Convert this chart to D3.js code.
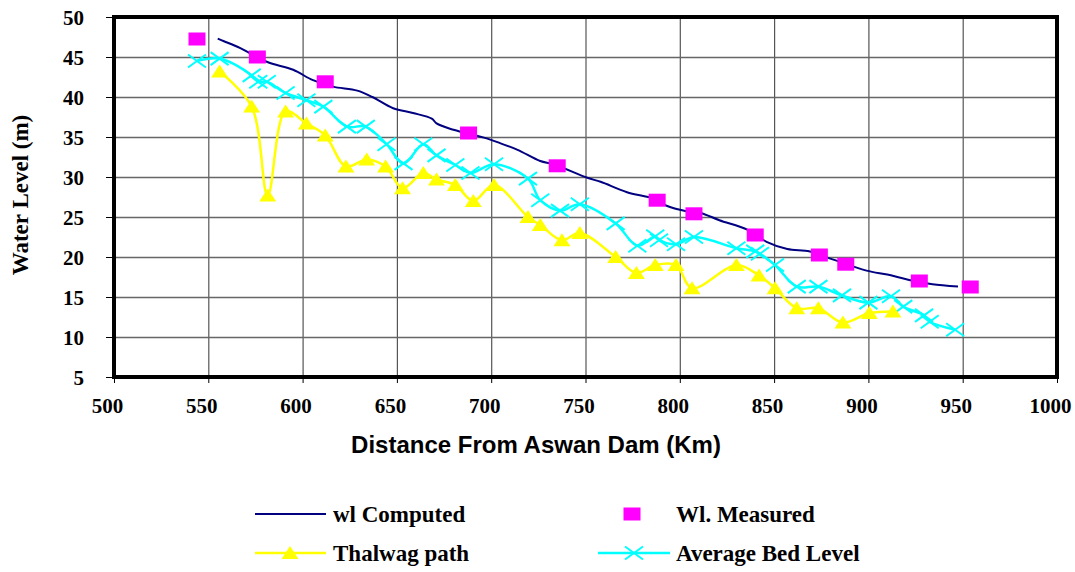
<!DOCTYPE html>
<html>
<head>
<meta charset="utf-8">
<script src="https://cdn.jsdelivr.net/npm/d3@7"></script>
<style>
    body { margin: 0; background: #fff; }
    #chart { width: 1075px; height: 572px; }
    .tick text { font-family: "Liberation Serif", "Times New Roman", serif; font-weight: bold; font-size: 21px; fill: #000; }
    .legendText { font-family: "Liberation Serif", "Times New Roman", serif; font-weight: bold; font-size: 23px; }
</style>
</head>
<body>
<div id="chart"></div>
<script>

// wl Computed
const compKm = [555, 558, 567, 581, 595, 605.5, 616, 629, 637, 648, 658.5, 668.5, 671, 680, 698, 705, 714, 726, 733, 751, 758, 772, 786, 793, 804, 811, 821, 836, 846, 857, 869, 881, 899, 910, 917, 926, 934, 947.5];
const compWl = [47.3, 47.0, 46.1, 44.4, 43.4, 42.1, 41.3, 40.8, 40.0, 38.6, 38.0, 37.3, 36.7, 35.9, 34.8, 34.2, 33.4, 32.0, 31.6, 29.9, 29.4, 28.1, 27.3, 26.4, 25.7, 25.5, 24.6, 23.4, 21.9, 21.0, 20.7, 19.7, 18.3, 17.8, 17.4, 16.9, 16.6, 16.3];

// Wl. Measured
const measKm = [544, 576, 612, 688, 735, 788, 807.5, 840, 874, 888, 927, 954];
const measWl = [47.25, 45.0, 41.9, 35.5, 31.4, 27.1, 25.4, 22.75, 20.25, 19.1, 17.0, 16.25];

// Thalwag path
const thalKm = [556, 573, 581.5, 591, 602, 612, 623, 634, 644, 653, 664, 671, 681, 690.5, 701.5, 719.5, 726, 737.5, 747, 766, 777, 787, 798, 806.5, 830, 842, 850.5, 862, 873.5, 886.5, 900.5, 913];
const thalWl = [43.2, 38.8, 27.7, 38.2, 36.7, 35.2, 31.3, 32.2, 31.3, 28.6, 30.5, 29.7, 29.0, 27.0, 29.0, 25.0, 24.0, 22.1, 23.0, 20.0, 18.0, 19.0, 19.0, 16.1, 19.0, 17.7, 16.1, 13.6, 13.6, 11.8, 13.0, 13.2];

// Average Bed Level
const bedKm = [544, 556, 573, 576.5, 581, 591, 602, 611, 623.5, 633.5, 644.5, 653.5, 664, 671, 681, 689, 701.5, 719.5, 726, 736.5, 747, 766, 777.5, 787, 789, 798, 807.5, 830, 840, 842.5, 850.5, 862, 873.5, 886, 900, 912, 918.5, 929.5, 932.5, 946];
const bedWl = [44.5, 44.8, 42.7, 41.9, 41.9, 40.5, 39.6, 38.8, 36.3, 36.3, 34.1, 31.7, 34.1, 32.7, 31.5, 30.5, 31.6, 29.8, 27.1, 25.8, 26.6, 24.2, 21.4, 22.6, 22.1, 21.6, 22.5, 21.1, 20.7, 20.4, 19.0, 16.3, 16.3, 15.2, 14.3, 15.1, 13.8, 12.7, 11.9, 10.9];

const xTicks = [500, 550, 600, 650, 700, 750, 800, 850, 900, 950, 1000];
const yTicks = [5, 10, 15, 20, 25, 30, 35, 40, 45, 50];

const width = 1075;
const height = 572;
const margin = {top: 17, left: 114, right: 18, bottom: 195};

const canvas = d3.select("#chart")
    .append("svg")
    .attr("width", width)
    .attr("height", height);

const xScale = d3.scaleLinear()
    .domain([500, 1000])
    .range([margin.left, width - margin.right]);

const yScale = d3.scaleLinear()
    .domain([5, 50])
    .range([height - margin.bottom, margin.top]);

const plotW = width - margin.right - margin.left;
const plotH = height - margin.bottom - margin.top;

// gridlines
const xGrid = canvas.append("g")
    .attr("transform", `translate(0, ${height - margin.bottom})`)
    .call(d3.axisBottom(xScale).tickValues(xTicks).tickSize(-plotH).tickFormat(""));
xGrid.select(".domain").remove();
xGrid.selectAll("line").attr("stroke", "#555").attr("stroke-width", 1.2);

const yGrid = canvas.append("g")
    .attr("transform", `translate(${margin.left}, 0)`)
    .call(d3.axisLeft(yScale).tickValues(yTicks).tickSize(-plotW).tickFormat(""));
yGrid.select(".domain").remove();
yGrid.selectAll("line").attr("stroke", "#666").attr("stroke-width", 1.6);

// axes
const xAxis = canvas.append("g")
    .attr("transform", `translate(0, ${height - margin.bottom})`)
    .call(d3.axisBottom(xScale).tickValues(xTicks).tickSize(6).tickFormat(d3.format("d")));
xAxis.select(".domain").remove();
xAxis.selectAll("line").attr("stroke", "#000");
xAxis.selectAll("text").attr("y", 36).attr("dy", 0).attr("dx", -7);

const yAxis = canvas.append("g")
    .attr("transform", `translate(${margin.left}, 0)`)
    .call(d3.axisLeft(yScale).tickValues(yTicks).tickSize(8).tickFormat(d3.format("d")));
yAxis.select(".domain").remove();
yAxis.selectAll("line").attr("stroke", "#000");
yAxis.selectAll("text").attr("x", -30).attr("dy", "0.35em");

// plot frame
canvas.append("rect")
    .attr("x", margin.left)
    .attr("y", margin.top)
    .attr("width", plotW)
    .attr("height", plotH)
    .attr("fill", "none")
    .attr("stroke", "#000")
    .attr("stroke-width", 4);

// axis titles
canvas.append("text")
    .attr("x", 536)
    .attr("y", 453)
    .attr("text-anchor", "middle")
    .attr("font-family", "'Liberation Sans', Arial, sans-serif")
    .attr("font-weight", "bold")
    .attr("font-size", "24px")
    .text("Distance From Aswan Dam (Km)");

canvas.append("text")
    .attr("transform", "rotate(-90)")
    .attr("x", -195)
    .attr("y", 28)
    .attr("text-anchor", "middle")
    .attr("font-family", "'Liberation Serif', 'Times New Roman', serif")
    .attr("font-weight", "bold")
    .attr("font-size", "23px")
    .text("Water Level (m)");

// markers
function square(g, cx, cy) {
    g.append("rect")
        .attr("x", cx - 8.5).attr("y", cy - 6.5)
        .attr("width", 17).attr("height", 13)
        .attr("fill", "#ff00ff");
}
function triangle(g, cx, cy) {
    g.append("path")
        .attr("d", `M${cx},${cy - 7} L${cx + 8.5},${cy + 6} L${cx - 8.5},${cy + 6} Z`)
        .attr("fill", "#ffff00");
}
function cross(g, cx, cy) {
    g.append("path")
        .attr("d", `M${cx - 9},${cy - 6.5} L${cx + 9},${cy + 6.5} M${cx - 9},${cy + 6.5} L${cx + 9},${cy - 6.5}`)
        .attr("stroke", "#00ffff")
        .attr("stroke-width", 2)
        .attr("fill", "none");
}

const comp = compKm.map(function(d, i) { return [d, compWl[i]]; });
const meas = measKm.map(function(d, i) { return [d, measWl[i]]; });
const thal = thalKm.map(function(d, i) { return [d, thalWl[i]]; });
const bed = bedKm.map(function(d, i) { return [d, bedWl[i]]; });

const smooth = d3.line()
    .x(function(d) { return xScale(d[0]); })
    .y(function(d) { return yScale(d[1]); })
    .curve(d3.curveCatmullRom.alpha(0.5));

const plot = canvas.append("g");

plot.append("path")
    .attr("d", smooth(bed))
    .attr("fill", "none")
    .attr("stroke", "#00ffff")
    .attr("stroke-width", 2.5);

bed.forEach(function(d) { cross(plot, xScale(d[0]), yScale(d[1])); });

plot.append("path")
    .attr("d", smooth(thal))
    .attr("fill", "none")
    .attr("stroke", "#ffff00")
    .attr("stroke-width", 2.5);

thal.forEach(function(d) { triangle(plot, xScale(d[0]), yScale(d[1])); });

plot.append("path")
    .attr("d", smooth(comp))
    .attr("fill", "none")
    .attr("stroke", "#000080")
    .attr("stroke-width", 2);

meas.forEach(function(d) { square(plot, xScale(d[0]), yScale(d[1])); });

// legend
const legend = canvas.append("g");

legend.append("line")
    .attr("x1", 255).attr("x2", 326).attr("y1", 514).attr("y2", 514)
    .attr("stroke", "#000080").attr("stroke-width", 2);
legend.append("text").attr("class", "legendText")
    .attr("x", 333).attr("y", 522).text("wl Computed");

square(legend, 632, 514);
legend.append("text").attr("class", "legendText")
    .attr("x", 676).attr("y", 522).text("Wl. Measured");

legend.append("line")
    .attr("x1", 255).attr("x2", 326).attr("y1", 553).attr("y2", 553)
    .attr("stroke", "#ffff00").attr("stroke-width", 2.5);
triangle(legend, 290, 553);
legend.append("text").attr("class", "legendText")
    .attr("x", 333).attr("y", 561).text("Thalwag path");

legend.append("line")
    .attr("x1", 598).attr("x2", 670).attr("y1", 553).attr("y2", 553)
    .attr("stroke", "#00ffff").attr("stroke-width", 2.5);
cross(legend, 634, 553);
legend.append("text").attr("class", "legendText")
    .attr("x", 676).attr("y", 561).text("Average Bed Level");

</script>
</body>
</html>
